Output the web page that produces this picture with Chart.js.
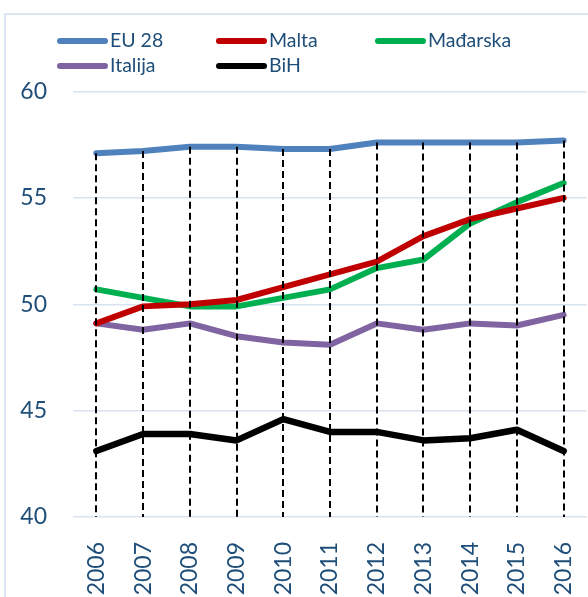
<!DOCTYPE html>
<html>
<head>
<meta charset="utf-8">
<script src="https://cdn.jsdelivr.net/npm/chart.js@4/dist/chart.umd.min.js"></script>
<style>
    body { margin: 0; background: #fff; overflow: hidden; }
    #wrap { position: relative; width: 588px; height: 597px; overflow: hidden; }
    #title { position: absolute; right: 32px; top: -30px; font: bold 28px Lato; line-height: 28px; color: #000; white-space: nowrap; }
    #frame { position: absolute; left: 4px; top: 13px; width: 700px; height: 700px; border: 2px solid #dce5f1; box-sizing: border-box; }
    #chartCanvas { position: absolute; left: 0; top: 0; }
    .leg { position: absolute; font: 19.5px Lato; color: #1f4e79; line-height: 20px; white-space: nowrap; }
    .leg span { display: inline-block; width: 51px; height: 6px; border-radius: 3px; vertical-align: middle; margin-right: 2px; position: relative; top: -1px; }
</style>
</head>
<body>
<div id="wrap">
    <div id="title">Stopa aktivnosti (%)</div>
    <div id="frame"></div>
    <canvas id="chartCanvas" width="588" height="597"></canvas>
    <div id="legend"></div>
</div>
<script>
const years = ["2006", "2007", "2008", "2009", "2010", "2011", "2012", "2013", "2014", "2015", "2016"];

const eu28     = [57.1, 57.2, 57.4, 57.4, 57.3, 57.3, 57.6, 57.6, 57.6, 57.6, 57.7];
const malta    = [49.1, 49.9, 50.0, 50.2, 50.8, 51.4, 52.0, 53.2, 54.0, 54.5, 55.0];
const madarska = [50.7, 50.3, 49.9, 49.9, 50.3, 50.7, 51.7, 52.1, 53.8, 54.8, 55.7];
const italija  = [49.1, 48.8, 49.1, 48.5, 48.2, 48.1, 49.1, 48.8, 49.1, 49.0, 49.5];
const bih      = [43.1, 43.9, 43.9, 43.6, 44.6, 44.0, 44.0, 43.6, 43.7, 44.1, 43.1];

const yTicks = [40, 45, 50, 55, 60];

const series = [
    { label: "EU 28", data: eu28, color: "#4f81bd" },
    { label: "Malta", data: malta, color: "#c00000" },
    { label: "Mađarska", data: madarska, color: "#00b050" },
    { label: "Italija", data: italija, color: "#8064a2" },
    { label: "BiH", data: bih, color: "#000000" }
];

// legend laid out like the excel one (2 rows, fixed columns)
const legendPos = [[57, 30], [216, 30], [375, 30], [57, 55], [216, 55]];
let html = "";
series.forEach((s, i) => {
    html += `<div class="leg" style="left:${legendPos[i][0]}px;top:${legendPos[i][1]}px">` +
        `<span style="background:${s.color}"></span>${s.label}</div>`;
});
document.getElementById("legend").innerHTML = html;

// dashed drop lines from the highest point down to the axis
const dropLines = {
    id: "dropLines",
    afterDatasetsDraw(chart) {
        const { ctx, chartArea, scales } = chart;
        ctx.save();
        ctx.strokeStyle = "#000";
        ctx.lineWidth = 2;
        ctx.setLineDash([7, 4]);
        years.forEach((yr, i) => {
            const top = Math.max(...series.map(s => s.data[i]));
            const px = Math.round(scales.x.getPixelForValue(i));
            ctx.beginPath();
            ctx.moveTo(px, scales.y.getPixelForValue(top));
            ctx.lineTo(px, chartArea.bottom);
            ctx.stroke();
        });
        ctx.restore();
    }
};

const ctx = document.getElementById("chartCanvas").getContext("2d");

new Chart(ctx, {
    type: "line",
    data: {
        labels: years,
        datasets: series.map(s => ({
            label: s.label,
            data: s.data,
            borderColor: s.color,
            backgroundColor: s.color,
            borderWidth: s.label === "BiH" ? 6.5 : 6,
            borderCapStyle: "round",
            borderJoinStyle: "round",
            pointRadius: 0,
            tension: 0
        }))
    },
    options: {
        responsive: false,
        animation: false,
        layout: { padding: { top: 91.5, right: 1, left: 0, bottom: 0 } },
        plugins: {
            legend: { display: false },
            tooltip: { enabled: false }
        },
        scales: {
            x: {
                offset: true,
                grid: { display: false, offset: true },
                border: { display: false },
                ticks: {
                    color: "#1f4e79",
                    font: { family: "Lato", size: 23 },
                    minRotation: 90,
                    maxRotation: 90,
                    padding: 17
                },
                afterFit(scale) {
                    scale.height = 80;
                    scale.paddingLeft = 0;
                    scale.paddingRight = 0;
                }
            },
            y: {
                min: 40,
                max: 60,
                afterBuildTicks(scale) { scale.ticks = yTicks.map(v => ({ value: v })); },
                grid: { color: "#d9e2f0", lineWidth: 1.5, drawTicks: false },
                border: { display: false },
                ticks: {
                    color: "#1f4e79",
                    font: { family: "Lato", size: 23 },
                    padding: 26
                },
                afterFit(scale) { scale.width = 73; }
            }
        }
    },
    plugins: [dropLines]
});
</script>
</body>
</html>
